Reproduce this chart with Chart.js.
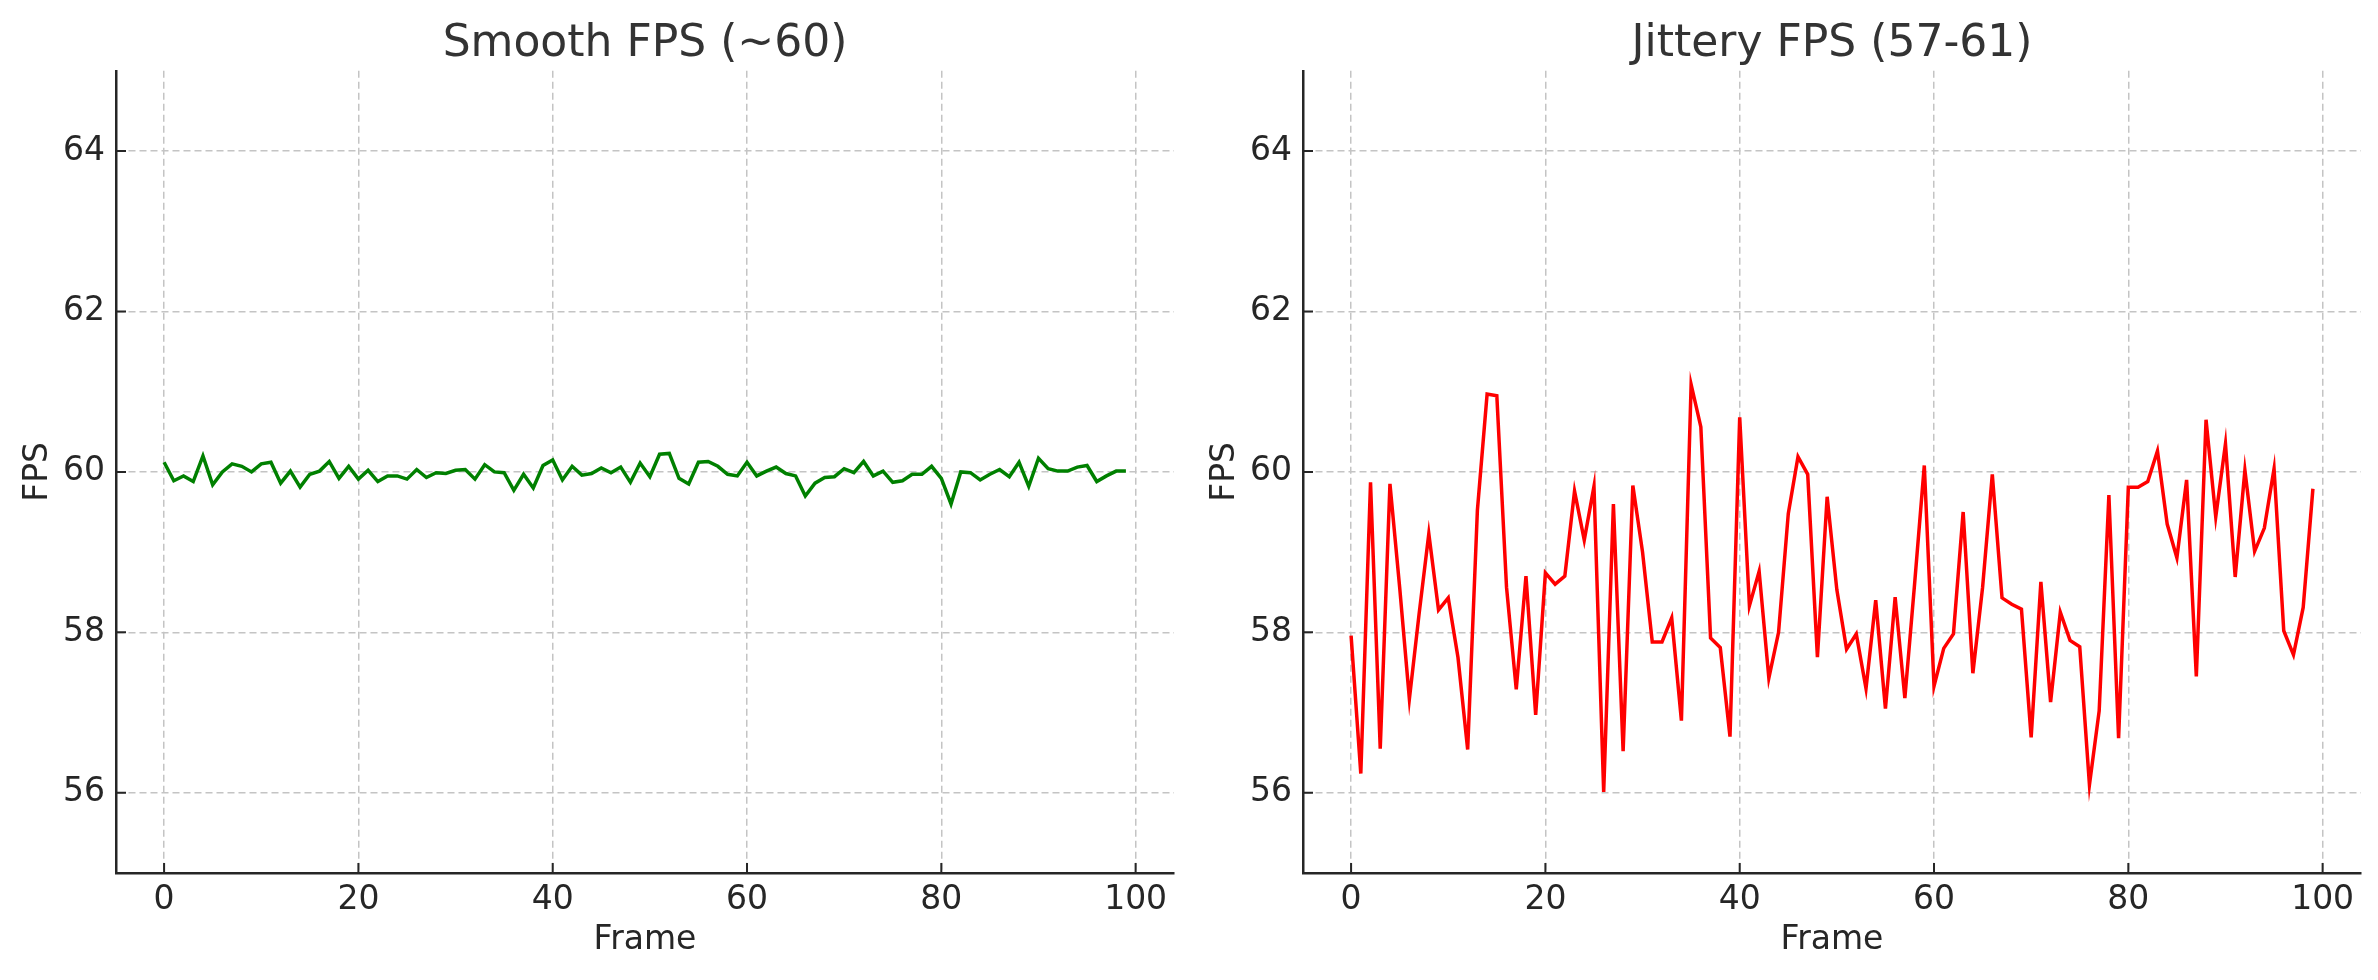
<!DOCTYPE html>
<html>
<head>
<meta charset="utf-8">
<title>FPS charts</title>
<script src="https://cdn.jsdelivr.net/npm/chart.js@4/dist/chart.umd.min.js"></script>
<style>
    body { margin: 0; background: #ffffff; }
    #wrap { position: relative; width: 2378px; height: 980px; }
    canvas { position: absolute; top: 0; }
    #smoothChart { left: 0px; }
    #jitterChart { left: 1187px; }
</style>
</head>
<body>
<div id="wrap">
    <canvas id="smoothChart" width="1187" height="980"></canvas>
    <canvas id="jitterChart" width="1187" height="980"></canvas>
</div>
<script>
// frame numbers (x values)
const frames = Array.from({ length: 100 }, (_, i) => i);

// smooth fps
const smoothFps = [
    60.12, 59.89, 59.95, 59.88, 60.20, 59.84, 60.00, 60.10, 60.07, 60.00,
    60.10, 60.12, 59.86, 60.01, 59.81, 59.97, 60.01, 60.13, 59.92, 60.07,
    59.91, 60.02, 59.88, 59.95, 59.95, 59.91, 60.03, 59.93, 59.99, 59.98,
    60.02, 60.03, 59.91, 60.09, 60.00, 59.99, 59.77, 59.97, 59.80, 60.08,
    60.15, 59.90, 60.07, 59.96, 59.98, 60.05, 59.99, 60.06, 59.87, 60.11,
    59.94, 60.22, 60.23, 59.92, 59.85, 60.12, 60.13, 60.07, 59.97, 59.95,
    60.12, 59.95, 60.01, 60.06, 59.98, 59.95, 59.70, 59.86, 59.93, 59.94,
    60.04, 59.99, 60.13, 59.95, 60.01, 59.87, 59.89, 59.97, 59.97, 60.07,
    59.92, 59.60, 60.00, 59.99, 59.90, 59.97, 60.03, 59.94, 60.12, 59.82,
    60.17, 60.04, 60.01, 60.01, 60.06, 60.08, 59.88, 59.95, 60.01, 60.01
];

// jittery fps
const jitterFps = [
    57.96, 56.24, 59.87, 56.55, 59.85, 58.56, 57.17, 58.23, 59.23, 58.28,
    58.43, 57.69, 56.54, 59.52, 60.97, 60.95, 58.56, 57.29, 58.70, 56.97,
    58.74, 58.60, 58.70, 59.76, 59.15, 59.82, 56.01, 59.60, 56.52, 59.83,
    59.00, 57.88, 57.88, 58.18, 56.90, 61.09, 60.56, 57.93, 57.81, 56.70,
    60.68, 58.33, 58.76, 57.43, 58.00, 59.48, 60.19, 59.97, 57.69, 59.69,
    58.53, 57.79, 57.98, 57.30, 58.40, 57.05, 58.44, 57.18, 58.60, 60.08,
    57.33, 57.80, 57.98, 59.50, 57.49, 58.56, 59.97, 58.43, 58.35, 58.29,
    56.69, 58.63, 57.13, 58.25, 57.90, 57.82, 56.10, 57.02, 59.71, 56.68,
    59.81, 59.81, 59.88, 60.26, 59.35, 58.93, 59.90, 57.45, 60.65, 59.44,
    60.35, 58.69, 60.02, 59.01, 59.30, 60.04, 58.02, 57.72, 58.31, 59.79
];

// tick labels
const xTicks = [0, 20, 40, 60, 80, 100];
const yTicks = [56, 58, 60, 62, 64];

const FONT = "'DejaVu Sans', sans-serif";
const INK = "#262626";

// draws short tick marks pointing into the plot, like matplotlib "in" ticks
const innerTicks = {
    id: "innerTicks",
    afterDraw(chart) {
        let ctx = chart.ctx;
        let xs = chart.scales.x;
        let ys = chart.scales.y;
        let area = chart.chartArea;
        ctx.save();
        ctx.strokeStyle = INK;
        ctx.lineWidth = 2;
        ctx.beginPath();
        xTicks.forEach(v => {
            let px = xs.getPixelForValue(v);
            ctx.moveTo(px, area.bottom);
            ctx.lineTo(px, area.bottom - 10);
        });
        yTicks.forEach(v => {
            let py = ys.getPixelForValue(v);
            ctx.moveTo(area.left, py);
            ctx.lineTo(area.left + 10, py);
        });
        ctx.stroke();
        ctx.restore();
    }
};

function drawChart(canvasId, title, values, colour) {
    // build {x, y} points from the arrays
    let points = frames.map((f, i) => ({ x: f, y: values[i] }));

    let context = document.getElementById(canvasId).getContext("2d");
    return new Chart(context, {
        type: "line",
        data: {
            datasets: [{
                data: points,
                borderColor: colour,
                borderWidth: 3.5,
                pointRadius: 0,
                tension: 0,
                fill: false
            }]
        },
        options: {
            responsive: false,
            animation: false,
            events: [],
            layout: { padding: { left: 0, right: 13, top: 0, bottom: 0 } },
            plugins: {
                legend: { display: false },
                tooltip: { enabled: false },
                title: {
                    display: true,
                    text: title,
                    fullSize: false,
                    color: "#333333",
                    font: { family: FONT, size: 44, weight: "normal" },
                    padding: { top: 18, bottom: 0 }
                }
            },
            scales: {
                x: {
                    type: "linear",
                    min: -4.95,
                    max: 103.95,
                    afterBuildTicks: (scale) => { scale.ticks = xTicks.map(v => ({ value: v })); },
                    afterFit: (scale) => { scale.height = 107; },
                    grid: { color: "#c4c4c4", lineWidth: 1.5, drawTicks: false },
                    border: { display: true, color: INK, width: 2.5, dash: [7, 4] },
                    ticks: { color: INK, padding: 8, font: { family: FONT, size: 33 } },
                    title: {
                        display: true,
                        text: "Frame",
                        color: INK,
                        font: { family: FONT, size: 33 },
                        padding: { top: 0, bottom: 20 }
                    }
                },
                y: {
                    type: "linear",
                    min: 55,
                    max: 65,
                    afterBuildTicks: (scale) => { scale.ticks = yTicks.map(v => ({ value: v })); },
                    afterFit: (scale) => { scale.width = 116; },
                    grid: { color: "#c4c4c4", lineWidth: 1.5, drawTicks: false },
                    border: { display: true, color: INK, width: 2.5, dash: [7, 4] },
                    ticks: { color: INK, padding: 11, font: { family: FONT, size: 33 } },
                    title: {
                        display: true,
                        text: "FPS",
                        color: INK,
                        font: { family: FONT, size: 33 },
                        padding: { top: 19, bottom: 0 }
                    }
                }
            }
        },
        plugins: [innerTicks]
    });
}

document.addEventListener("DOMContentLoaded", () => {
    drawChart("smoothChart", "Smooth FPS (~60)", smoothFps, "#008000");
    drawChart("jitterChart", "Jittery FPS (57-61)", jitterFps, "#ff0000");
});
</script>
</body>
</html>
